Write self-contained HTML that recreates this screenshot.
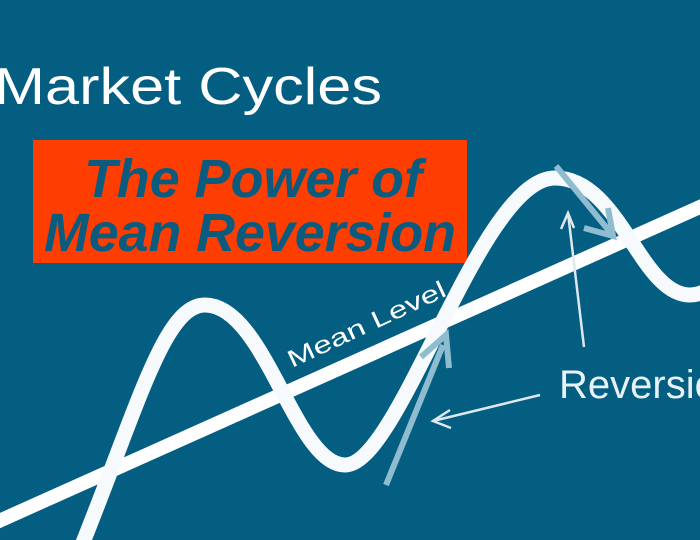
<!DOCTYPE html>
<html><head><meta charset="utf-8"><style>
html,body{margin:0;padding:0;width:700px;height:540px;overflow:hidden;background:#035e82}
</style></head><body>
<svg width="700" height="540" viewBox="0 0 700 540" xmlns="http://www.w3.org/2000/svg">
<rect width="700" height="540" fill="#035e82"/>
<text x="-6" y="104" font-family="Liberation Sans, sans-serif" font-size="52" fill="#ffffff" textLength="388" lengthAdjust="spacingAndGlyphs">Market Cycles</text>
<rect x="33" y="140" width="434" height="123" fill="#fe3d00"/>
<text x="84" y="197" font-family="Liberation Sans, sans-serif" font-weight="bold" font-style="italic" font-size="54" fill="#0b5b7e" textLength="338" lengthAdjust="spacingAndGlyphs">The Power of</text>
<text x="44" y="251" font-family="Liberation Sans, sans-serif" font-weight="bold" font-style="italic" font-size="54" fill="#0b5b7e" textLength="412" lengthAdjust="spacingAndGlyphs">Mean Reversion</text>
<line x1="-10" y1="525" x2="720" y2="198" stroke="#ffffff" stroke-width="14"/>
<path d="M 82 545 C 140 400 165 305 205 305 C 265 305 295 465 345 465 C 400 465 480 178 555 178 C 620 178 640 295 690 295 C 700 295 710 290 720 280" fill="none" stroke="#f7fafc" stroke-width="15"/>
<g stroke="#8fbccf" stroke-width="6" fill="none">
<line x1="386" y1="485" x2="443" y2="345"/>
<polyline points="421,357 446,335 449,368"/>
<line x1="556" y1="166" x2="610" y2="232"/>
<polyline points="584,228 613,236 608,208"/>
</g>
<g stroke="#dde9ef" stroke-width="2.5" fill="none">
<line x1="540" y1="395" x2="433" y2="421"/>
<polyline points="450,410 433,421 451,428"/>
<line x1="584" y1="347" x2="568" y2="213"/>
<polyline points="561,229 568,213 574,228"/>
</g>
<text x="0" y="0" transform="translate(292,368) rotate(-25)" font-family="Liberation Sans, sans-serif" font-size="24" fill="#ffffff" textLength="172" lengthAdjust="spacingAndGlyphs">Mean Level</text>
<text x="559" y="398" font-family="Liberation Sans, sans-serif" font-size="40" fill="#e8f1f5">Reversion</text>
</svg>
</body></html>
